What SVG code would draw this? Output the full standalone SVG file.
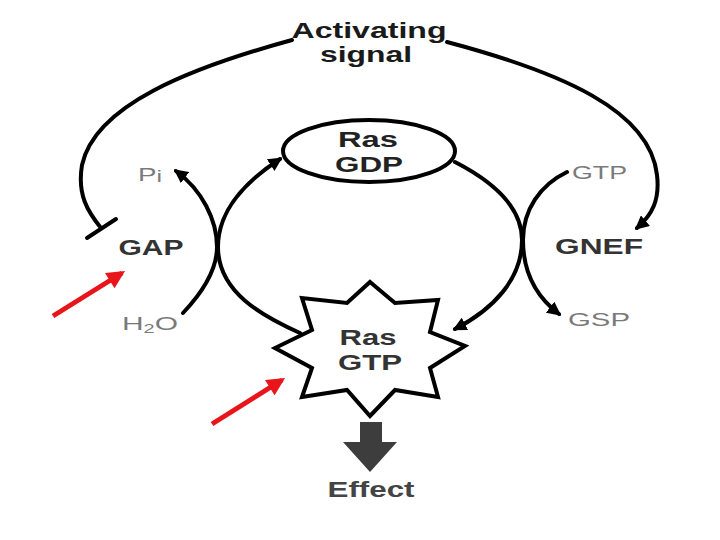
<svg xmlns="http://www.w3.org/2000/svg" width="720" height="540" viewBox="0 0 720 540">
<style>
.ln{fill:none;stroke:#000;stroke-width:4;stroke-linecap:round}
.red{fill:none;stroke:#e8151b;stroke-width:5}
.t{font-family:"Liberation Sans",Arial,sans-serif;font-weight:bold;font-size:22px;text-anchor:middle}
.g{font-family:"Liberation Sans",Arial,sans-serif;font-size:18px;fill:#7a7a7a}
.shape{fill:#fff;stroke:#000;stroke-width:4;stroke-linejoin:miter}
</style>
<defs>
<marker id="ah" viewBox="0 0 10 10" refX="8" refY="5" markerWidth="14" markerHeight="14" markerUnits="userSpaceOnUse" orient="auto">
<path d="M0,0 L10,5 L0,10 z" fill="#000"/>
</marker>
<marker id="rh" viewBox="0 0 10 10" refX="8" refY="5" markerWidth="20" markerHeight="18" markerUnits="userSpaceOnUse" orient="auto">
<path d="M0,0 L10,5 L0,10 z" fill="#e8151b"/>
</marker>
</defs>
<rect width="720" height="540" fill="#fff"/>
<g id="connectors">
<path class="ln" d="M292,40 C190,68 95,105 82,165 C77,195 88,212 101,228"/>
<line class="ln" x1="87" y1="238" x2="116" y2="219"/>
<path class="ln" d="M447,42 C560,72 650,110 657,175 C660,200 652,215 637,228" marker-end="url(#ah)"/>
<path class="ln" d="M183,313 C200,295 217,272 217,247 C217,220 202,190 176,171" marker-end="url(#ah)"/>
<path class="ln" d="M300,333 C262,316 218,292 218,247 C218,210 245,182 280,159" marker-end="url(#ah)"/>
<path class="ln" d="M455,162 C490,180 522,205 522,240 C522,280 492,310 455,329" marker-end="url(#ah)"/>
<path class="ln" d="M567,172 C540,185 523,210 523,240 C523,275 538,298 559,314" marker-end="url(#ah)"/>
<line class="red" x1="53" y1="316" x2="122" y2="273" marker-end="url(#rh)"/>
<line class="red" x1="212" y1="424" x2="282" y2="380" marker-end="url(#rh)"/>
<polygon points="360,422 382,422 382,442 397,442 370,472 343,442 360,442" fill="#3d3d3d"/>
</g>
<g id="signal">
<text class="t" x="369" y="38" font-size="21" textLength="155" lengthAdjust="spacingAndGlyphs" fill="#1a1a1a">Activating</text>
<text class="t" x="366" y="62" font-size="21" textLength="92" lengthAdjust="spacingAndGlyphs" fill="#1a1a1a">signal</text>
</g>
<g id="ras-gdp">
<ellipse class="shape" cx="369" cy="151" rx="86" ry="31"/>
<text class="t" x="368" y="147" textLength="60" lengthAdjust="spacingAndGlyphs" fill="#222">Ras</text>
<text class="t" x="369" y="172" textLength="68" lengthAdjust="spacingAndGlyphs" fill="#222">GDP</text>
</g>
<g id="ras-gtp">
<polygon class="shape" points="370,282 395,303 438,300 430,332 465,346 430,368 438,397 395,390 370,416 347,390 302,397 312,368 275,348 312,330 302,298 347,303"/>
<text class="t" x="368" y="345" textLength="57" lengthAdjust="spacingAndGlyphs" fill="#333">Ras</text>
<text class="t" x="370" y="370" textLength="64" lengthAdjust="spacingAndGlyphs" fill="#333">GTP</text>
</g>
<g id="gap">
<text class="t" x="151" y="255" textLength="65" lengthAdjust="spacingAndGlyphs" fill="#333">GAP</text>
</g>
<g id="gnef">
<text class="t" x="599" y="254" textLength="88" lengthAdjust="spacingAndGlyphs" fill="#333">GNEF</text>
</g>
<g id="pi">
<text class="g" x="138" y="181" textLength="24" lengthAdjust="spacingAndGlyphs">P<tspan font-size="16" dy="1">i</tspan></text>
</g>
<g id="h2o">
<text class="g" x="122" y="330" textLength="56" lengthAdjust="spacingAndGlyphs">H<tspan font-size="12" dy="3">2</tspan><tspan dy="-3">O</tspan></text>
</g>
<g id="gtp">
<text class="g" x="572" y="179" textLength="55" lengthAdjust="spacingAndGlyphs">GTP</text>
</g>
<g id="gsp">
<text class="g" x="568" y="326" textLength="62" lengthAdjust="spacingAndGlyphs">GSP</text>
</g>
<g id="effect">
<text class="t" x="371" y="497" textLength="87" lengthAdjust="spacingAndGlyphs" fill="#444">Effect</text>
</g>
</svg>
